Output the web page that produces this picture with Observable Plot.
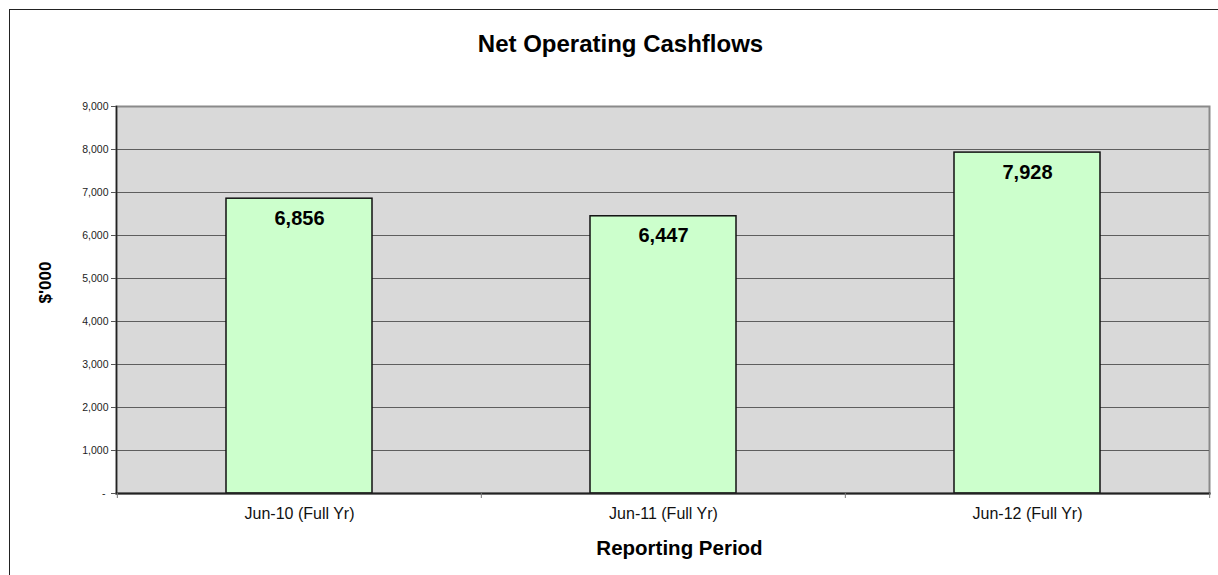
<!DOCTYPE html>
<html>
<head>
<meta charset="utf-8">
<script src="https://cdn.jsdelivr.net/npm/d3@7"></script>
<script src="https://cdn.jsdelivr.net/npm/@observablehq/plot@0.6"></script>
<style>
  html, body { margin: 0; padding: 0; background: #fff; overflow: hidden; }
  #wrap { position: relative; width: 1218px; height: 575px; overflow: hidden; }
  #border { position: absolute; left: 9px; top: 9px; width: 1300px; height: 700px; border: 1.5px solid #222; box-sizing: border-box; }
  #chart { position: absolute; left: 0; top: 0; }
</style>
</head>
<body>
<div id="wrap"><div id="border"></div><div id="chart"></div></div>
<script>
const categories = ["Jun-10 (Full Yr)", "Jun-11 (Full Yr)", "Jun-12 (Full Yr)"];
const values = [6856, 6447, 7928];
const yTicks = [0, 1000, 2000, 3000, 4000, 5000, 6000, 7000, 8000, 9000];
const title = "Net Operating Cashflows";
const xTitle = "Reporting Period";
const yTitle = "$'000";

const data = categories.map((c, i) => ({cat: c, value: values[i]}));
const W = 1218, H = 575, mL = 116, mR = 9, mT = 106, mB = 82;
const step = (W - mL - mR) / categories.length;
const fmt = d3.format(",");
const font = "'Liberation Sans', Arial, Helvetica, sans-serif";

const chart = Plot.plot({
  width: W, height: H,
  marginLeft: mL, marginRight: mR, marginTop: mT, marginBottom: mB,
  style: {fontFamily: font, background: "transparent", color: "#000"},
  x: {domain: categories, paddingInner: 0.6, paddingOuter: 0.3, label: null},
  y: {domain: [0, 9000], label: null},
  marks: [
    Plot.frame({fill: "#D9D9D9", stroke: "#8a8a8a", strokeWidth: 2}),
    Plot.ruleY(yTicks.filter(t => t > 0 && t < 9000), {stroke: "#5e5e5e", strokeWidth: 1}),
    Plot.barY(data, {x: "cat", y: "value", fill: "#CCFFCC", stroke: "#111", strokeWidth: 1.5}),
    Plot.text(data, {x: "cat", y: "value", text: d => fmt(d.value), dy: 19.5, lineAnchor: "middle",
      fontSize: 20, fontWeight: "bold", fill: "#000"}),
    Plot.frame({anchor: "left", stroke: "#222", strokeWidth: 1.5}),
    Plot.frame({anchor: "bottom", stroke: "#222", strokeWidth: 2}),
    Plot.axisY(yTicks, {tickSize: 5, tickPadding: 3, fontSize: 10.5, stroke: "#555",
      tickFormat: d => d === 0 ? "- " : fmt(d), label: null, fill: "#222"}),
    Plot.axisX({tickSize: 0, tickPadding: 14, fontSize: 16, label: null, fill: "#111"}),
    Plot.axisX(categories, {tickSize: 5, dx: -step / 2, stroke: "#777", tickFormat: () => "", label: null}),
    Plot.axisX(categories.slice(-1), {tickSize: 5, dx: step / 2, stroke: "#777", tickFormat: () => "", label: null}),
    Plot.text([title], {frameAnchor: "top", dy: -62, dx: -42.5, lineAnchor: "middle",
      fontSize: 24, fontWeight: "bold", fill: "#000"}),
    Plot.text([xTitle], {frameAnchor: "bottom", dy: 55.4, dx: 16.5, lineAnchor: "middle",
      fontSize: 20.5, fontWeight: "bold", fill: "#000"}),
    Plot.text([yTitle], {frameAnchor: "left", dx: -71.3, dy: 3.5, rotate: -90, lineAnchor: "middle",
      fontSize: 17, fontWeight: "bold", fill: "#000"})
  ]
});
document.getElementById("chart").appendChild(chart);
</script>
</body>
</html>
